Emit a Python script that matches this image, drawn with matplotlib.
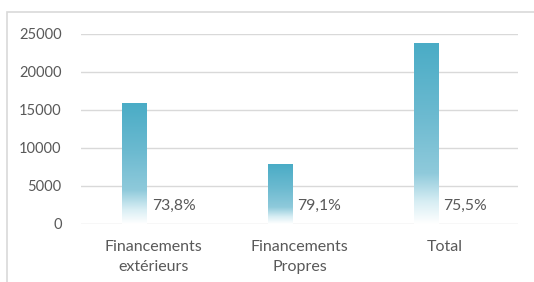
import numpy as np
import matplotlib
matplotlib.use("Agg")
import matplotlib.pyplot as plt
from matplotlib.colors import LinearSegmentedColormap
from matplotlib.patches import Rectangle

categories = ["Financements\nextérieurs", "Financements\nPropres", "Total"]
montants = [15870, 7850, 23750]
taux = [0.738, 0.791, 0.755]
taux_labels = ["73,8%", "79,1%", "75,5%"]
yticks = [0, 5000, 10000, 15000, 20000, 25000]

plt.rcParams['font.family'] = ['Lato', 'DejaVu Sans']
txt_color = '#595959'
grid_color = '#d9d9d9'

fig = plt.figure(figsize=(5.34, 2.82), dpi=100)
ax = fig.add_axes([0.1517, 0.2067, 0.8184, 0.6745])

# cadre du graphique (bords haut et gauche visibles)
fig.patches.append(Rectangle((7 / 534, -0.1), 1.2, 1 - 12 / 282 + 0.1,
                             transform=fig.transFigure, fill=False,
                             edgecolor=grid_color, linewidth=1.2))

x = np.arange(len(categories))
off = 0.135
w = 0.165

cmap = LinearSegmentedColormap.from_list(
    'grad', [(0.0, '#ffffff'), (0.12, '#d8eef4'), (0.28, '#8fcadb'),
             (0.6, '#6cbad0'), (1.0, '#4aacc6')])
grad = np.linspace(0, 1, 256).reshape(-1, 1)

bars = ax.bar(x - off, montants, width=w, color='none', edgecolor='none', zorder=3)
for b in bars:
    x0, y0 = b.get_x(), b.get_y()
    im = ax.imshow(grad, cmap=cmap, origin='lower', aspect='auto',
                   extent=[x0, x0 + b.get_width(), y0, y0 + b.get_height()], zorder=3)
    im.set_clip_path(b)

# serie des taux (valeurs minuscules sur l'echelle des montants)
bars2 = ax.bar(x + off, taux, width=w, color='none', edgecolor='none', zorder=3)
for b, lab in zip(bars2, taux_labels):
    ax.annotate(lab, (b.get_x() + b.get_width() / 2, b.get_height()),
                xytext=(0, 12.5), textcoords='offset points',
                ha='center', va='center', fontsize=11.3, color=txt_color, zorder=4)

ax.set_xlim(-0.5, 2.5)
ax.set_ylim(0, 25000)
ax.set_yticks(yticks)
ax.set_yticklabels([str(v) for v in yticks])
ax.set_xticks(x)
ax.set_xticklabels(categories, linespacing=1.55)
ax.yaxis.grid(True, color=grid_color, linewidth=1.0, zorder=0)
ax.set_axisbelow(True)
for s in ax.spines.values():
    s.set_visible(False)
ax.tick_params(axis='both', length=0, colors=txt_color)
ax.tick_params(axis='x', pad=11.5, labelsize=11.5)
ax.tick_params(axis='y', pad=14, labelsize=10.5)

fig.savefig("out.png", dpi=100)
